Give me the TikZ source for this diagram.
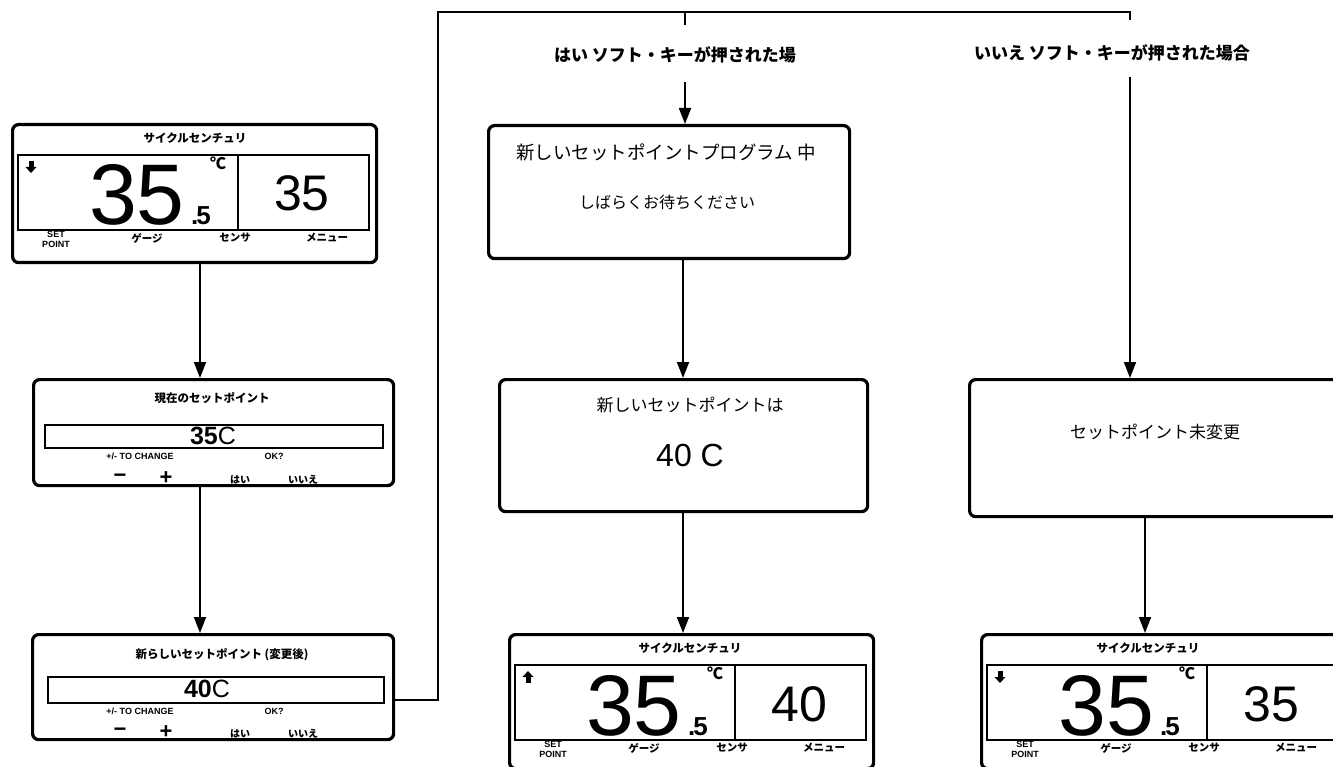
\documentclass[tikz,border=0pt]{standalone}
\usepackage{fontspec}
\setmainfont{Liberation Sans}
\newfontfamily\jp{Noto Sans CJK JP}
\usetikzlibrary{arrows.meta}
\tikzset{
  frame/.style={draw, line width=3.2pt, rounded corners=6pt, inner sep=0pt, anchor=north west},
  innerbox/.style={draw, line width=1.6pt, inner sep=0pt, anchor=north west},
  conn/.style={line width=1.8pt},
  arr/.style={conn, -{Triangle[length=16pt,width=12pt]}},
  txt/.style={inner sep=0pt},
  disptitle/.style={txt, font=\jp\bfseries\fontsize{11.5}{11.5}\selectfont},
  displab/.style={txt, font=\jp\bfseries\fontsize{10.5}{10.5}\selectfont},
  setlab/.style={txt, align=center, font=\bfseries\fontsize{9}{10}\selectfont},
  bignum/.style={txt, text depth=0pt, font=\fontsize{86}{86}\selectfont},
  decnum/.style={txt, text depth=0pt, font=\bfseries\fontsize{26}{26}\selectfont},
  degc/.style={txt, font=\jp\bfseries\fontsize{16}{16}\selectfont},
  mednum/.style={txt, text depth=0pt, font=\fontsize{50}{50}\selectfont},
  boxtitle/.style={txt, font=\jp\bfseries\fontsize{11.5}{11.5}\selectfont},
  valnum/.style={txt, font=\fontsize{25}{25}\selectfont},
  smalllab/.style={txt, font=\bfseries\fontsize{9}{9}\selectfont},
  pm/.style={txt, font=\bfseries\fontsize{22}{22}\selectfont},
  yesno/.style={txt, font=\jp\bfseries\fontsize{10}{10}\selectfont},
  msg/.style={txt, font=\jp\fontsize{17}{17}\selectfont},
  toplab/.style={txt, font=\jp\bfseries\fontsize{17}{17}\selectfont},
}
% #1 name, #2 x, #3 y, #4 height, #5 arrow yscale (1 down, -1 up), #6 right number, #7 title x
\newcommand\dispbox[7]{%
\begin{scope}[shift={(#2,#3)}]
  \node[frame, minimum width=364pt, minimum height=#4pt] (#1) at (0,0) {};
  \node[disptitle] (#1-t) at (#7,15) {サイクルセンチュリ};
  \node[innerbox, minimum width=351pt, minimum height=75pt] (#1-i) at (6,31) {};
  \draw[line width=1.4pt] (227,31) -- (227,106);
  \begin{scope}[shift={(20,44)}, yscale=#5]
    \fill (-5.5,0) -- (5.5,0) -- (0,6) -- cycle;
    \fill (-2.5,-6) rectangle (2.5,0.5);
  \end{scope}
  \node[bignum, anchor=base] (#1-n) at (126,102) {35};
  \node[decnum, anchor=base west] (#1-d) at (180,102) {.\kern-2pt5};
  \node[degc, anchor=north west] (#1-c) at (199,34) {℃};
  \node[mednum, anchor=base] (#1-r) at (291,88) {#6};
  \node[setlab, anchor=north] (#1-s) at (45,108) {SET\\POINT};
  \node[displab] (#1-g) at (136,115) {ゲージ};
  \node[displab] (#1-e) at (224,115) {センサ};
  \node[displab] (#1-m) at (316,115) {メニュー};
\end{scope}}
\begin{document}
\begin{tikzpicture}[x=1pt, y=-1pt]
\useasboundingbox (0,0) rectangle (1333,767);
\clip (0,0) rectangle (1333,767);
\fill[white] (0,0) rectangle (1333,767);

% left column
\dispbox{A}{11}{123}{138}{1}{35}{184}

\node[frame, minimum width=360pt, minimum height=106pt] (B) at (32,378) {};
\node[boxtitle] (B-t) at (212,398) {現在のセットポイント};
\node[innerbox, minimum width=338pt, minimum height=23pt] (B-i) at (44,424) {};
\node[valnum] (B-v) at (213,436) {\textbf{35}C};
\node[smalllab] (B-l) at (140,456) {+/- TO CHANGE};
\node[smalllab] (B-o) at (274,456) {OK?};
\node[pm] (B-m) at (120,478) {−};
\node[pm] (B-p) at (166,478) {+};
\node[yesno] (B-y) at (240,480) {はい};
\node[yesno] (B-n) at (303,480) {いいえ};

\node[frame, minimum width=361pt, minimum height=105pt] (C) at (31,633) {};
\node[boxtitle] (C-t) at (222,655) {新らしいセットポイント (変更後)};
\node[innerbox, minimum width=336pt, minimum height=26pt] (C-i) at (47,676) {};
\node[valnum] (C-v) at (207,689) {\textbf{40}C};
\node[smalllab] (C-l) at (140,711) {+/- TO CHANGE};
\node[smalllab] (C-o) at (274,711) {OK?};
\node[pm] (C-m) at (120,732) {−};
\node[pm] (C-p) at (166,732) {+};
\node[yesno] (C-y) at (240,734) {はい};
\node[yesno] (C-n) at (303,734) {いいえ};

% middle column
\node[frame, minimum width=361pt, minimum height=133pt] (D) at (487,124) {};
\node[msg, font=\jp\fontsize{18.5}{18.5}\selectfont] (D-1) at (666,152) {新しいセットポイントプログラム 中};
\node[msg, font=\jp\fontsize{16}{16}\selectfont] (D-2) at (667,202) {しばらくお待ちください};

\node[frame, minimum width=368pt, minimum height=132pt] (E) at (498,378) {};
\node[msg] (E-1) at (690,405) {新しいセットポイントは};
\node[txt, font=\fontsize{32}{32}\selectfont] (E-2) at (690,455) {40 C};

\dispbox{G}{508}{633}{134}{-1}{40}{182}

% right column
\node[frame, minimum width=400pt, minimum height=137pt] (F) at (968,378) {};
\node[msg] (F-1) at (1155,432) {セットポイント未変更};

\dispbox{H}{980}{633}{134}{1}{35}{168}

% labels
\node[toplab] (yes) at (675,55) {はい ソフト・キーが押された場};
\node[toplab] (no) at (1112,53) {いいえ ソフト・キーが押された場合};

% connectors
\coordinate (xa) at (200,0);
\coordinate (xm) at (683,0);
\coordinate (xr) at (1145,0);
\draw[arr] (A.south -| xa) -- (B.north -| xa);
\draw[arr] (B.south -| xa) -- (C.north -| xa);
\draw[arr] (D.south -| xm) -- (E.north -| xm);
\draw[arr] (E.south -| xm) -- (G.north -| xm);
\draw[arr] (F.south -| xr) -- (H.north -| xr);

\coordinate (k1) at (438,700);
\coordinate (k2) at (438,12);
\coordinate (k3) at (1130,12);
\coordinate (k4) at (1130,20);
\coordinate (k5) at (685,12);
\coordinate (k6) at (685,25);
\coordinate (k7) at (685,82);
\coordinate (k8) at (1130,77);
\draw[conn] (k1 -| C.east) -- (k1) -- (k2) -- (k3) -- (k4);
\draw[conn] (k5) -- (k6);
\draw[arr] (k7) -- (k7 |- D.north);
\draw[arr] (k8) -- (k8 |- F.north);
\end{tikzpicture}
\end{document}
